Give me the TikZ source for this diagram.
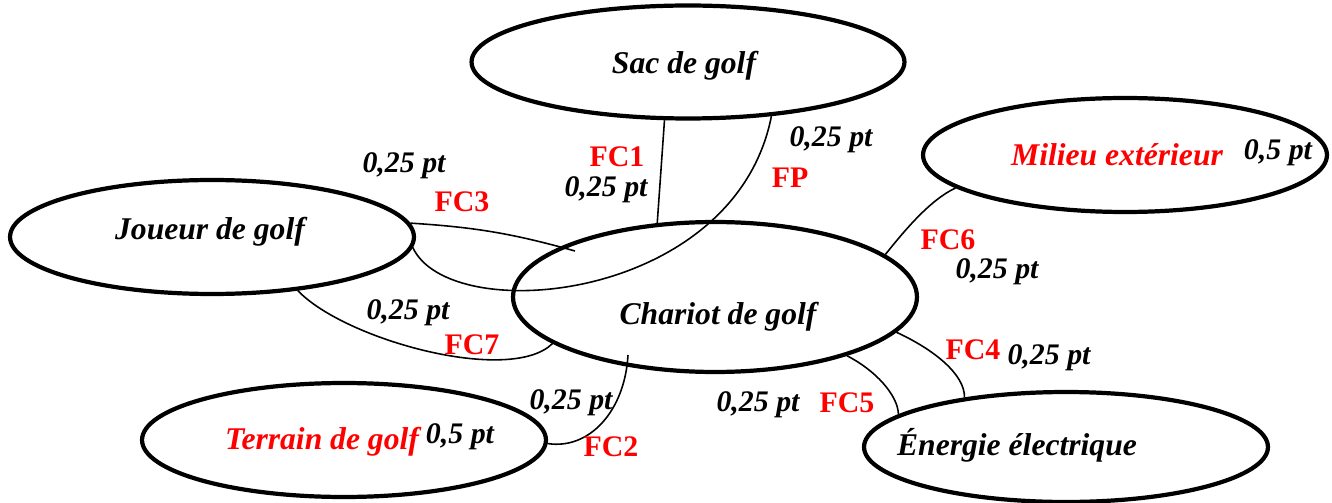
\documentclass[tikz,border=0pt]{standalone}
\usepackage{fontspec}
\setmainfont{Liberation Serif}
\usetikzlibrary{shapes.geometric}
\pgfdeclarelayer{edgelayer}
\pgfdeclarelayer{nodelayer}
\pgfsetlayers{edgelayer,nodelayer,main}
\tikzstyle{edge}=[draw=black, line width=0.9pt]
\tikzstyle{blob}=[ellipse, draw=black, line width=2.4pt, inner sep=0pt, minimum width=8.08cm, minimum height=2.28cm]
\tikzstyle{blobtext}=[font=\fontsize{18}{20}\selectfont\bfseries\itshape, inner sep=0pt]
\tikzstyle{fclabel}=[font=\fontsize{17}{20}\selectfont\bfseries, text=red, inner sep=0pt]
\tikzstyle{ptlabel}=[font=\fontsize{17}{20}\selectfont\bfseries\itshape, inner sep=0pt]

\begin{document}
\begin{tikzpicture}[x=0.02cm, y=-0.02cm]
				\useasboundingbox (0, 0) rectangle (1332, 503);
				\begin{pgfonlayer}{nodelayer}
					\node [style=blob, minimum width=8.66cm, minimum height=2.26cm] (sac) at (688, 62) {};
					\node [style=blob] (joueur) at (212, 237) {};
					\node [style=blob, minimum height=3cm] (chariot) at (715, 297) {};
					\node [style=blob] (milieu) at (1125, 155) {};
					\node [style=blob] (terrain) at (344, 440) {};
					\node [style=blob, minimum height=2.2cm] (energie) at (1066, 447) {};
					\node [style=blobtext] (sac-t) at (684, 66) {Sac de golf};
					\node [style=blobtext] (joueur-t) at (210, 232) {Joueur de golf};
					\node [style=blobtext] (chariot-t) at (718, 317) {Chariot de golf};
					\node [style=blobtext, text=red] (milieu-t) at (1117, 155) {Milieu extérieur};
					\node [style=blobtext, text=red] (terrain-t) at (322, 442) {Terrain de golf};
					\node [style=blobtext] (energie-t) at (1017, 445) {Énergie électrique};
					\node [style=ptlabel] (milieu-w) at (1278, 153) {0,5 pt};
					\node [style=ptlabel] (terrain-w) at (460, 437) {0,5 pt};
				\end{pgfonlayer}
				\coordinate (fc3end) at (575, 251);
				\coordinate (fc2start) at (628, 355);
				\begin{pgfonlayer}{edgelayer}
					\draw [style=edge] (chariot.128) to (sac.-112);
					\draw [style=edge] (joueur.-3) .. controls (450, 328) and (735, 302) .. (sac.-33);
					\draw [style=edge] (joueur.4) to [bend left=6] (fc3end);
					\draw [style=edge] (joueur.-32) .. controls (345, 340) and (510, 385) .. (chariot.-164);
					\draw [style=edge] (fc2start) .. controls (625, 410) and (590, 450) .. (terrain.-1);
					\draw [style=edge] (chariot.-24.5) .. controls (875, 370) and (898, 395) .. (energie.169);
					\draw [style=edge] (chariot.-11) .. controls (935, 350) and (965, 375) .. (energie.154);
					\draw [style=edge] (chariot.14) .. controls (905, 230) and (930, 200) .. (milieu.-169);
				\end{pgfonlayer}
				% labels of the contacts
				\node [style=fclabel] (fc1) at (617, 157) {FC1};
				\node [style=ptlabel] (fc1-w) at (606, 190) {0,25 pt};
				\node [style=fclabel] (fp) at (790, 178) {FP};
				\node [style=ptlabel] (fp-w) at (831, 140) {0,25 pt};
				\node [style=fclabel] (fc3) at (462, 202) {FC3};
				\node [style=ptlabel] (fc3-w) at (404, 166) {0,25 pt};
				\node [style=fclabel] (fc6) at (948, 240) {FC6};
				\node [style=ptlabel] (fc6-w) at (997, 272) {0,25 pt};
				\node [style=fclabel] (fc7) at (472, 345) {FC7};
				\node [style=ptlabel] (fc7-w) at (408, 313) {0,25 pt};
				\node [style=fclabel] (fc2) at (611, 447) {FC2};
				\node [style=ptlabel] (fc2-w) at (571, 403) {0,25 pt};
				\node [style=fclabel] (fc5) at (847, 403) {FC5};
				\node [style=ptlabel] (fc5-w) at (758, 405) {0,25 pt};
				\node [style=fclabel] (fc4) at (973, 350) {FC4};
				\node [style=ptlabel] (fc4-w) at (1049, 358) {0,25 pt};
			\end{tikzpicture}
\end{document}
